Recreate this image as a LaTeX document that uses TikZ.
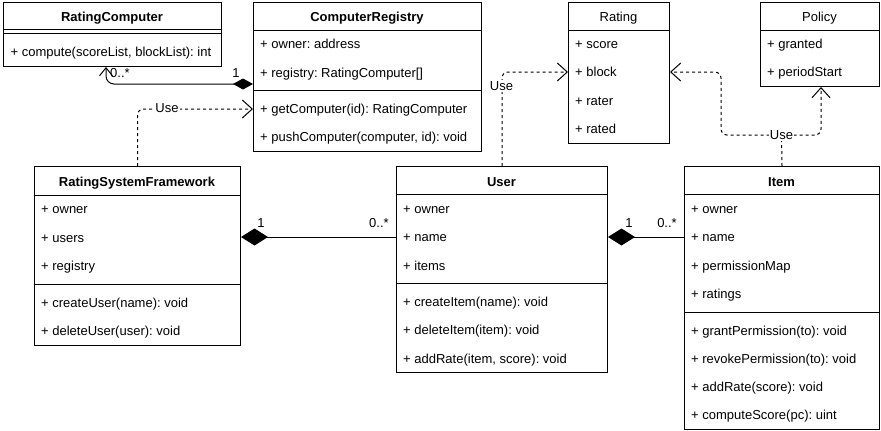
\documentclass[tikz,border=0pt]{standalone}
\usepackage{fontspec}
\setmainfont{Liberation Sans}
\usetikzlibrary{arrows.meta}
\frenchspacing
\begin{document}
\begin{tikzpicture}[x=1pt,y=-1pt,
 box/.style={draw, line width=1pt, rectangle, anchor=north west, inner sep=0, fill=white},
 txt/.style={anchor=base west, inner sep=0, font=\fontsize{13}{15}\selectfont},
 ttl/.style={anchor=base, inner sep=0, font=\fontsize{13}{15}\selectfont\bfseries},
 ttln/.style={anchor=base, inner sep=0, font=\fontsize{13}{15}\selectfont},
 lbl/.style={inner sep=1pt, font=\fontsize{13}{15}\selectfont},
 sepline/.style={line width=1pt},
 dep/.style={line width=1pt, dash pattern=on 3pt off 3pt, rounded corners=6pt},
 opentip/.style={-{Straight Barb[length=10pt,width=18pt,line width=1pt]}},
 comp/.style={line width=1pt, {Diamond[length=27pt,width=17pt]}-},
]
\fill[white] (0,0) rectangle (881,431);
\useasboundingbox (0,0) rectangle (881,431);

% RatingComputer
\node[box, minimum width=218pt, minimum height=64pt] (rc) at (3,2) {};
\draw[sepline] (rc.west |- 0,29) -- (rc.east |- 0,29);
\draw[sepline] (rc.west |- 0,33) -- (rc.east |- 0,33);
\node[ttl] (rct) at (112,21.5) {RatingComputer};
\node[txt] (rcm1) at (10.5,56.5) {+ compute(scoreList, blockList): int};

% ComputerRegistry
\node[box, minimum width=228pt, minimum height=149pt] (cr) at (253,2) {};
\draw[sepline] (cr.west |- 0,30) -- (cr.east |- 0,30);
\draw[sepline] (cr.west |- 0,90) -- (cr.east |- 0,90);
\node[ttl] (crt) at (367,21.5) {ComputerRegistry};
\node[txt] (cra1) at (260,48.5) {+ owner: address};
\node[txt] (cra2) at (260,77.5) {+ registry: RatingComputer[]};
\node[txt] (crm1) at (260,113.5) {+ getComputer(id): RatingComputer};
\node[txt] (crm2) at (260,141.5) {+ pushComputer(computer, id): void};

% Rating
\node[box, minimum width=101pt, minimum height=141pt] (rating) at (568,2) {};
\draw[sepline] (rating.west |- 0,30) -- (rating.east |- 0,30);
\node[ttln] (ratingt) at (618.5,21.5) {Rating};
\node[txt] (ra1) at (575,48.5) {+ score};
\node[txt] (ra2) at (575,76.5) {+ block};
\node[txt] (ra3) at (575,105.5) {+ rater};
\node[txt] (ra4) at (575,133.5) {+ rated};

% Policy
\node[box, minimum width=119pt, minimum height=84pt] (policy) at (760,2) {};
\draw[sepline] (policy.west |- 0,30) -- (policy.east |- 0,30);
\node[ttln] (policyt) at (819.5,21.5) {Policy};
\node[txt] (pa1) at (767,48.5) {+ granted};
\node[txt] (pa2) at (767,76.5) {+ periodStart};

% RatingSystemFramework
\node[box, minimum width=206pt, minimum height=179pt] (rsf) at (34,166) {};
\draw[sepline] (rsf.west |- 0,195) -- (rsf.east |- 0,195);
\draw[sepline] (rsf.west |- 0,284) -- (rsf.east |- 0,284);
\node[ttl] (rsft) at (137,186.5) {RatingSystemFramework};
\node[txt] (rsfa1) at (41,213.5) {+ owner};
\node[txt] (rsfa2) at (41,242.5) {+ users};
\node[txt] (rsfa3) at (41,270.5) {+ registry};
\node[txt] (rsfm1) at (41,307.5) {+ createUser(name): void};
\node[txt] (rsfm2) at (41,335.5) {+ deleteUser(user): void};

% User
\node[box, minimum width=211pt, minimum height=206pt] (user) at (396,166) {};
\draw[sepline] (user.west |- 0,194) -- (user.east |- 0,194);
\draw[sepline] (user.west |- 0,283) -- (user.east |- 0,283);
\node[ttl] (usert) at (501.5,186.5) {User};
\node[txt] (ua1) at (403,213.5) {+ owner};
\node[txt] (ua2) at (403,241.5) {+ name};
\node[txt] (ua3) at (403,270.5) {+ items};
\node[txt] (um1) at (403,306.5) {+ createItem(name): void};
\node[txt] (um2) at (403,334.5) {+ deleteItem(item): void};
\node[txt] (um3) at (403,363.5) {+ addRate(item, score): void};

% Item
\node[box, minimum width=195pt, minimum height=263pt] (item) at (684,166) {};
\draw[sepline] (item.west |- 0,194) -- (item.east |- 0,194);
\draw[sepline] (item.west |- 0,312) -- (item.east |- 0,312);
\node[ttl] (itemt) at (781.5,186.5) {Item};
\node[txt] (ia1) at (691,213.5) {+ owner};
\node[txt] (ia2) at (691,241.5) {+ name};
\node[txt] (ia3) at (691,270.5) {+ permissionMap};
\node[txt] (ia4) at (691,298.5) {+ ratings};
\node[txt] (im1) at (691,335.5) {+ grantPermission(to): void};
\node[txt] (im2) at (691,363.5) {+ revokePermission(to): void};
\node[txt] (im3) at (691,391.5) {+ addRate(score): void};
\node[txt] (im4) at (691,419.5) {+ computeScore(pc): uint};

% RatingComputer -- ComputerRegistry composition
\draw[line width=1pt, rounded corners=8pt, {Diamond[length=20pt,width=11pt]}-{Straight Barb[length=8pt,width=13pt,line width=1pt]}]
  ([yshift=-82pt]cr.north west) -| ([xshift=103pt]rc.south west);
\node[lbl] (l1) at (120,73) {0..*};
\node[lbl] (l2) at (236,73) {1};

% RatingSystemFramework -> ComputerRegistry (Use)
\draw[dep, opentip] (rsf.north) |- ([yshift=-107pt]cr.north west);
\node[lbl, fill=white] (u1) at (167,108) {Use};

% User -> Rating (Use)
\draw[dep, opentip] (user.north) |- ([yshift=-70pt]rating.north west);
\node[lbl, fill=white] (u2) at (501.5,86) {Use};

% Item -> Rating, Policy (Use)
\coordinate (itemjn) at (781.5,135);
\draw[dep] (item.north) -- (itemjn);
\draw[dep, opentip] (itemjn) -| ([xshift=51pt,yshift=-70pt]rating.north east) -- ([yshift=-70pt]rating.north east);
\draw[dep, opentip] (itemjn) -| ([xshift=61pt]policy.south west);
\node[lbl, fill=white] (u3) at (itemjn) {Use};

% RatingSystemFramework -- User composition
\draw[comp] ([yshift=-71pt]rsf.north east) -- ([yshift=-71pt]user.north west);
\node[lbl] (l3) at (261,223) {1};
\node[lbl] (l4) at (379,223) {0..*};

% User -- Item composition
\draw[comp] ([yshift=-71pt]user.north east) -- ([yshift=-71pt]item.north west);
\node[lbl] (l5) at (629,223) {1};
\node[lbl] (l6) at (667,223) {0..*};
\end{tikzpicture}
\end{document}
